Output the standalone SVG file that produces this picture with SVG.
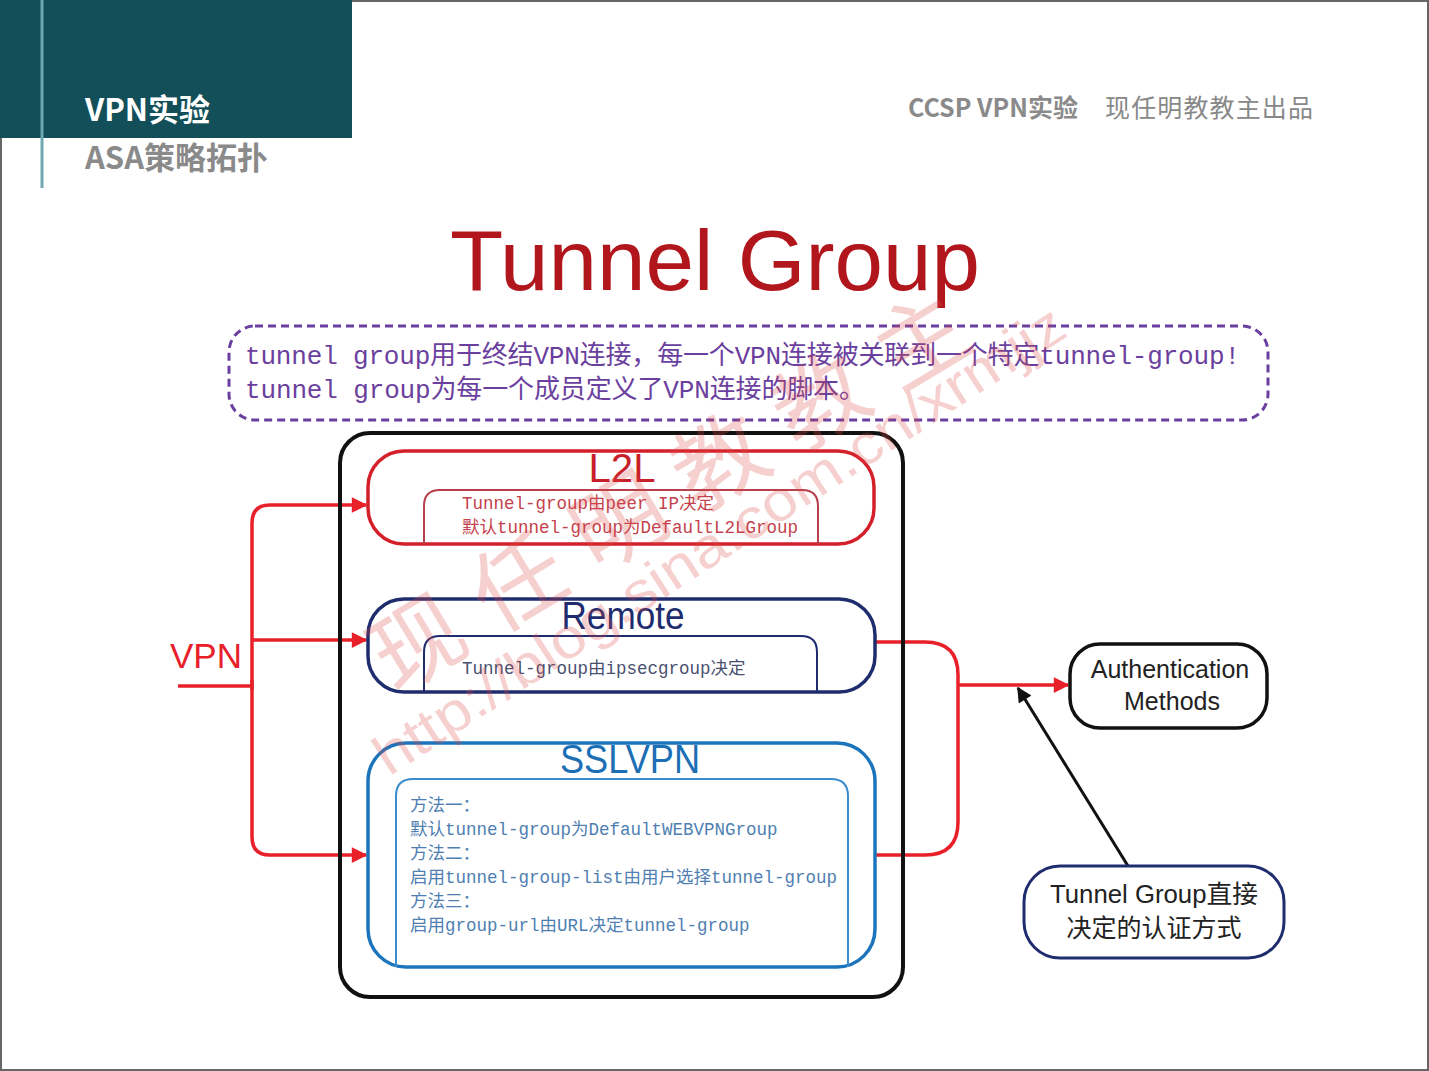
<svg xmlns="http://www.w3.org/2000/svg" width="1429" height="1071" viewBox="0 0 1429 1071">
<style>
.sans{font-family:"Liberation Sans","Noto Sans CJK SC",Arial,sans-serif}
.cjk{font-family:"Noto Sans CJK SC","Liberation Sans",sans-serif}
.mono{font-family:"Liberation Mono","Noto Sans CJK SC",monospace}
.red{stroke:#e8202a;stroke-width:3.5;fill:none}
.blk{stroke:#111;stroke-width:3;fill:none}
.wm{fill:#e04848;opacity:0.26}
</style>
<defs>
<marker id="ar" viewBox="0 0 10 10" refX="9" refY="5" markerWidth="5" markerHeight="4.5" markerUnits="strokeWidth" orient="auto">
<path d="M0,0 L10,5 L0,10 z" fill="#e8202a"/>
</marker>
<marker id="ab" viewBox="0 0 10 10" refX="9" refY="5" markerWidth="6" markerHeight="5" markerUnits="strokeWidth" orient="auto">
<path d="M0,0 L10,5 L0,10 z" fill="#111"/>
</marker>
</defs>
<rect x="0" y="0" width="1429" height="1071" fill="#ffffff"/>
<rect x="1" y="1" width="1427" height="1069" fill="none" stroke="#666" stroke-width="2"/>
<g id="header">
<rect x="0" y="0" width="352" height="138" fill="#134f58"/>
<line x1="42" y1="0" x2="42" y2="188" stroke="#6fa8b0" stroke-width="3"/>
<text x="85" y="121" class="cjk" font-size="31" font-weight="bold" fill="#ffffff">VPN实验</text>
<text x="85" y="169" class="cjk" font-size="31" font-weight="bold" fill="#8a8a8a">ASA策略拓扑</text>
<text x="908" y="117" class="cjk" font-size="25" font-weight="bold" fill="#8a8a8a">CCSP VPN实验</text>
<text x="1105" y="117" class="cjk" font-size="25" fill="#888" textLength="208" lengthAdjust="spacing">现任明教教主出品</text>
</g>
<text x="715" y="290" class="sans" font-size="86" fill="#b2161d" text-anchor="middle" textLength="530" lengthAdjust="spacingAndGlyphs">Tunnel Group</text>
<g id="note">
<rect x="229" y="326" width="1039" height="94" rx="26" fill="none" stroke="#6a3fa0" stroke-width="3" stroke-dasharray="8,5"/>
<text x="245" y="364" class="mono" font-size="26" fill="#6b3f9e" textLength="995" lengthAdjust="spacing">tunnel group用于终结VPN连接，每一个VPN连接被关联到一个特定tunnel-group!</text>
<text x="245" y="398" class="mono" font-size="26" fill="#6b3f9e" textLength="620" lengthAdjust="spacing">tunnel group为每一个成员定义了VPN连接的脚本。</text>
</g>
<g id="connectors">
<line x1="178" y1="686" x2="252" y2="686" class="red"/>
<path d="M252,690 V523 Q252,505 270,505 H366" class="red" marker-end="url(#ar)"/>
<path d="M252,640 H366" class="red" marker-end="url(#ar)"/>
<path d="M252,680 V837 Q252,855 270,855 H366" class="red" marker-end="url(#ar)"/>
<path d="M876,642 H925 Q958,642 958,675 V822 Q958,855 925,855 H876" class="red"/>
<path d="M958,685 H1068" class="red" marker-end="url(#ar)"/>
<path d="M1128,866 L1018,688" class="blk" marker-end="url(#ab)"/>
</g>
<text x="170" y="668" class="sans" font-size="35" fill="#e8202a">VPN</text>
<g id="tunnel-group">
<rect x="340" y="433" width="563" height="564" rx="30" fill="none" stroke="#111" stroke-width="4"/>
</g>
<g id="l2l">
<rect x="368" y="451" width="506" height="93" rx="36" fill="none" stroke="#d4202a" stroke-width="3.5"/>
<path d="M424,544 V506 Q424,490 440,490 H802 Q818,490 818,506 V544" fill="none" stroke="#b8404c" stroke-width="2"/>
<text x="622" y="482" class="sans" font-size="40" fill="#c8202a" text-anchor="middle" textLength="67" lengthAdjust="spacingAndGlyphs">L2L</text>
<text x="462" y="509" class="mono" font-size="17.5" fill="#c4424c">Tunnel-group由peer IP决定</text>
<text x="462" y="533" class="mono" font-size="17.5" fill="#c4424c">默认tunnel-group为DefaultL2LGroup</text>
</g>
<g id="remote">
<rect x="368" y="599" width="507" height="93" rx="36" fill="none" stroke="#1f2d6e" stroke-width="3.5"/>
<path d="M424,692 V652 Q424,636 440,636 H801 Q817,636 817,652 V692" fill="none" stroke="#1f2d6e" stroke-width="2"/>
<text x="623" y="629" class="sans" font-size="39" fill="#1f2d6e" text-anchor="middle" textLength="123" lengthAdjust="spacingAndGlyphs">Remote</text>
<text x="462" y="674" class="mono" font-size="17.5" fill="#4a5070">Tunnel-group由ipsecgroup决定</text>
</g>
<g id="sslvpn">
<rect x="368" y="743" width="507" height="224" rx="38" fill="none" stroke="#1c75bc" stroke-width="3.5"/>
<path d="M396,967 V796 Q396,779 413,779 H831 Q848,779 848,796 V967" fill="none" stroke="#3a8ccc" stroke-width="2"/>
<text x="630" y="773" class="sans" font-size="40" fill="#1c6fb4" text-anchor="middle" textLength="140" lengthAdjust="spacingAndGlyphs">SSLVPN</text>
<g class="mono" font-size="17.5" fill="#4f7fb2">
<text x="410" y="811">方法一：</text>
<text x="410" y="835">默认tunnel-group为DefaultWEBVPNGroup</text>
<text x="410" y="859">方法二：</text>
<text x="410" y="883">启用tunnel-group-list由用户选择tunnel-group</text>
<text x="410" y="907">方法三：</text>
<text x="410" y="931">启用group-url由URL决定tunnel-group</text>
</g>
</g>
<g id="auth">
<rect x="1070" y="644" width="197" height="84" rx="30" fill="#fff" stroke="#111" stroke-width="3.5"/>
<text x="1170" y="678" class="sans" font-size="25" fill="#222" text-anchor="middle">Authentication</text>
<text x="1172" y="710" class="sans" font-size="25" fill="#222" text-anchor="middle">Methods</text>
</g>
<g id="direct">
<rect x="1024" y="866" width="260" height="92" rx="36" fill="#fff" stroke="#1f2d6e" stroke-width="3"/>
<text x="1154" y="903" class="sans" font-size="25" fill="#222" text-anchor="middle" textLength="208" lengthAdjust="spacingAndGlyphs">Tunnel Group直接</text>
<text x="1154" y="937" class="cjk" font-size="25" fill="#222" text-anchor="middle">决定的认证方式</text>
</g>
<g id="watermark">
<text x="0" y="0" class="cjk wm" font-size="92" textLength="680" lengthAdjust="spacing" transform="translate(395,695) rotate(-31)">现任明教教主</text>
<text x="0" y="0" class="sans wm" font-size="56" textLength="812" lengthAdjust="spacingAndGlyphs" transform="translate(389,777) rotate(-33)">http://blog.sina.com.cn/xrmjjz</text>
</g>
</svg>
